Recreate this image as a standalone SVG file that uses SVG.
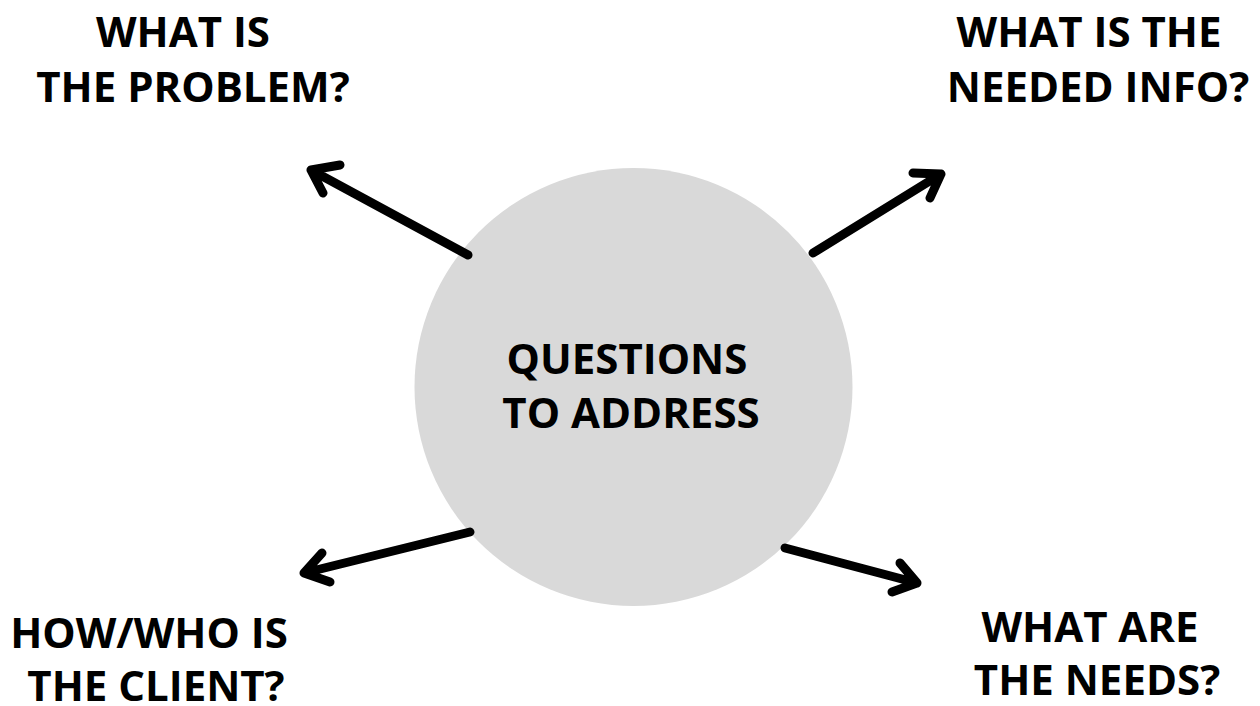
<svg xmlns="http://www.w3.org/2000/svg" width="1260" height="706" viewBox="0 0 1260 706">
  <style>
    .label { font-family: "Open Sans", "Liberation Sans", sans-serif; font-weight: 700; font-size: 42px; fill: #000; text-anchor: middle; }
    .arrow { fill: none; stroke: #000; stroke-width: 9; stroke-linecap: round; stroke-linejoin: round; }
  </style>
  <rect width="1260" height="706" fill="#fff"/>

  <!-- central hub -->
  <g id="hub">
    <circle cx="633.5" cy="387" r="219" fill="#d9d9d9"/>
    <text class="label" x="627" y="374">QUESTIONS</text>
    <text class="label" x="631" y="428">TO ADDRESS</text>
  </g>

  <!-- open-headed arrows radiating from the hub -->
  <g id="connectors">
    <path class="arrow" d="M468 255 L311 170 M340 165 L311 170 L323 193"/>
    <path class="arrow" d="M813 253 L941 174 M913 173 L941 174 L930 198"/>
    <path class="arrow" d="M470 532 L304 573 M322 553 L304 573 L330 582"/>
    <path class="arrow" d="M785 548 L917 583 M900 563 L917 583 L892 592"/>
  </g>

  <g id="problem">
    <text class="label" x="183" y="47">WHAT IS</text>
    <text class="label" x="193" y="102">THE PROBLEM?</text>
  </g>
  <g id="needed-info">
    <text class="label" x="1089" y="47">WHAT IS THE</text>
    <text class="label" x="1098" y="102">NEEDED INFO?</text>
  </g>
  <g id="client">
    <text class="label" x="149" y="648">HOW/WHO IS</text>
    <text class="label" x="156" y="701">THE CLIENT?</text>
  </g>
  <g id="needs">
    <text class="label" x="1090" y="642">WHAT ARE</text>
    <text class="label" x="1097" y="695">THE NEEDS?</text>
  </g>
</svg>
